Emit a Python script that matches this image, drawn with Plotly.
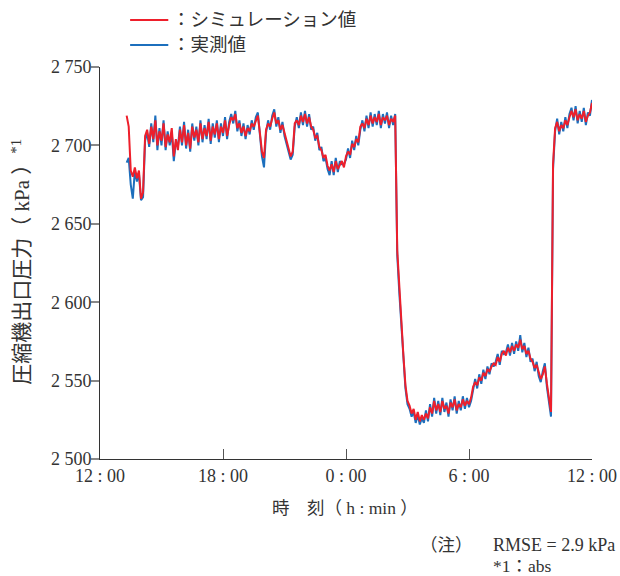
import plotly.graph_objects as go

# time axis: hours after 12:00, samples every 0.1 h starting 13:18
t_start = 1.3
t_step = 0.1

# simulation (red)
simulation = [
    2719, 2712, 2684, 2680, 2686, 2679, 2684, 2666, 2670, 2706,
    2710, 2701, 2712, 2704, 2716, 2700, 2709, 2703, 2714, 2699,
    2707, 2702, 2711, 2693, 2704, 2697, 2710, 2702, 2713, 2700,
    2708, 2698, 2712, 2705, 2710, 2702, 2714, 2704, 2711, 2706,
    2715, 2703, 2712, 2707, 2714, 2704, 2712, 2708, 2716, 2706,
    2713, 2718, 2716, 2720, 2711, 2714, 2708, 2712, 2706, 2711,
    2709, 2714, 2712, 2716, 2719, 2708, 2696, 2692, 2710, 2714,
    2712, 2717, 2721, 2714, 2716, 2710, 2713, 2708, 2703, 2697,
    2693, 2696, 2714, 2716, 2713, 2719, 2715, 2720, 2714, 2718,
    2712, 2710, 2705, 2706, 2699, 2697, 2692, 2694, 2687, 2684,
    2688, 2683, 2690, 2685, 2688, 2690, 2686, 2693, 2696, 2694,
    2701, 2699, 2704, 2702, 2712, 2714, 2711, 2717, 2713, 2719,
    2714, 2718, 2715, 2720, 2713, 2718, 2716, 2719, 2713, 2717,
    2715, 2719, 2633, 2608, 2587, 2566, 2547, 2537, 2534, 2529,
    2532, 2525, 2530, 2524, 2528, 2525, 2529, 2526, 2533, 2529,
    2537, 2531, 2535, 2530, 2537, 2532, 2534, 2529, 2536, 2533,
    2538, 2531, 2535, 2533, 2538, 2534, 2537, 2535, 2539, 2546,
    2549, 2547, 2552, 2550, 2555, 2553, 2557, 2556, 2559, 2561,
    2560, 2565, 2562, 2567, 2569, 2566, 2571, 2568, 2572, 2569,
    2573, 2571, 2576, 2570, 2572, 2567, 2569, 2564, 2562, 2558,
    2560, 2555, 2551, 2554, 2559, 2548, 2537, 2530, 2688, 2711,
    2715, 2709, 2713, 2711, 2716, 2713, 2718, 2722, 2718, 2723,
    2716, 2720, 2717, 2722, 2715, 2719, 2721, 2727,
]

# measured (blue)
measured = [
    2689, 2692, 2675, 2666, 2684, 2677, 2682, 2665, 2667, 2703,
    2708, 2699, 2714, 2702, 2719, 2697, 2711, 2700, 2716, 2697,
    2709, 2700, 2708, 2690, 2702, 2699, 2712, 2700, 2715, 2698,
    2710, 2696, 2714, 2703, 2712, 2700, 2716, 2702, 2713, 2704,
    2717, 2701, 2714, 2705, 2716, 2702, 2714, 2706, 2718, 2704,
    2715, 2720, 2714, 2722, 2709, 2716, 2706, 2714, 2704, 2713,
    2707, 2716, 2710, 2718, 2721, 2706, 2693, 2686, 2708, 2716,
    2710, 2719, 2723, 2712, 2718, 2708, 2715, 2706, 2701, 2695,
    2691, 2694, 2712, 2718, 2711, 2721, 2713, 2722, 2712, 2720,
    2710, 2712, 2703, 2708, 2697, 2699, 2690, 2692, 2685, 2681,
    2690, 2681, 2692, 2683, 2690, 2688, 2688, 2691, 2698, 2692,
    2703, 2697, 2706, 2700, 2710, 2716, 2709, 2719, 2711, 2721,
    2712, 2720, 2713, 2722, 2711, 2720, 2714, 2721, 2711, 2719,
    2713, 2720, 2630, 2606, 2585, 2564, 2545, 2535, 2532, 2527,
    2530, 2523, 2528, 2522, 2526, 2523, 2531, 2524, 2535, 2527,
    2539, 2529, 2537, 2528, 2539, 2530, 2536, 2527, 2538, 2531,
    2540, 2529, 2537, 2531, 2540, 2532, 2539, 2533, 2537, 2544,
    2551, 2545, 2554, 2548, 2557, 2551, 2559, 2554, 2561, 2559,
    2562, 2567, 2560, 2569, 2567, 2568, 2573, 2566, 2574, 2567,
    2575, 2569, 2579, 2568, 2574, 2565, 2571, 2562, 2564, 2556,
    2562, 2553, 2549, 2556, 2561, 2546, 2535, 2527, 2685, 2709,
    2717, 2707, 2715, 2709, 2718, 2711, 2720, 2724, 2716, 2725,
    2714, 2722, 2715, 2724, 2713, 2721, 2719, 2729,
]

x_tickvals = [0, 6, 12, 18, 24]
x_ticktext = ["12 : 00", "18 : 00", "0 : 00", "6 : 00", "12 : 00"]
y_tickvals = [2500, 2550, 2600, 2650, 2700, 2750]
y_ticktext = ["2 500", "2 550", "2 600", "2 650", "2 700", "2 750"]

legend_labels = ["：シミュレーション値", "：実測値"]
y_title = "圧縮機出口圧力（ kPa ）<sup>*1</sup>"
x_title = "時　刻（ h : min ）"
note1 = "（注）"
note2 = "RMSE = 2.9 kPa"
note3 = "*1：abs"

RED = "#ee1f2b"
BLUE = "#1c6fbd"
TXT = "#333333"
FONT = "Liberation Serif, Noto Sans CJK JP, serif"

times_m = [round(t_start + t_step * i, 2) for i in range(len(measured))]
times_s = [round(t_start + t_step * i, 2) for i in range(len(simulation))]

fig = go.Figure()
fig.add_trace(go.Scatter(x=times_m, y=measured, mode="lines",
                         line=dict(color=BLUE, width=2), showlegend=False))
fig.add_trace(go.Scatter(x=times_s, y=simulation, mode="lines",
                         line=dict(color=RED, width=2), showlegend=False))

# horizontal compensation for the capture (observed x ~ 0.9857 * layout x + 1.4)
SX, OX = 0.9857, 1.4

def fx(target):
    return (target - OX) / SX

W, H = 629, 576
PL, PR, PT, PB = 100, 590, 67, 459   # plot area in target pixels
L, T = fx(PL), PT
R, B = W - fx(PR), H - PB

def px(xp):
    return (fx(xp) - fx(PL)) / (fx(PR) - fx(PL))

def py(yp):
    return (PB - yp) / (PB - PT)

# manual legend
for i, (c, lab) in enumerate(zip([RED, BLUE], legend_labels)):
    yy = 20 + 25 * i
    fig.add_shape(type="line", xref="paper", yref="paper",
                  x0=px(130), x1=px(168), y0=py(yy), y1=py(yy),
                  line=dict(color=c, width=2))
    fig.add_annotation(xref="paper", yref="paper", x=px(170), y=py(yy),
                       text=lab, showarrow=False, xanchor="left", yanchor="middle",
                       font=dict(size=18.5, color=TXT, family=FONT))

fig.add_annotation(xref="paper", yref="paper", x=px(21), y=py(262),
                   text=y_title, textangle=-90, showarrow=False,
                   xanchor="center", yanchor="middle",
                   font=dict(size=21, color=TXT, family=FONT))
fig.add_annotation(xref="paper", yref="paper", x=px(344), y=py(508),
                   text=x_title, showarrow=False, xanchor="center", yanchor="middle",
                   font=dict(size=17.5, color=TXT, family=FONT))
fig.add_annotation(xref="paper", yref="paper", x=px(418), y=py(544.5),
                   text=note1, showarrow=False, xanchor="left", yanchor="middle",
                   borderpad=0, font=dict(size=17.5, color=TXT, family=FONT))
fig.add_annotation(xref="paper", yref="paper", x=px(490), y=py(544.5),
                   text=note2, showarrow=False, xanchor="left", yanchor="middle",
                   borderpad=0, font=dict(size=18, color=TXT, family=FONT))
fig.add_annotation(xref="paper", yref="paper", x=px(490), y=py(565.5),
                   text=note3, showarrow=False, xanchor="left", yanchor="middle",
                   borderpad=0, font=dict(size=17.5, color=TXT, family=FONT))

fig.update_layout(
    width=W, height=H,
    margin=dict(l=L, r=R, t=T, b=B),
    paper_bgcolor="white", plot_bgcolor="white",
    font=dict(family=FONT, size=18, color=TXT),
    showlegend=False,
)
fig.update_xaxes(range=[0, 24], tickvals=x_tickvals, ticktext=x_ticktext,
                 showgrid=False, zeroline=False, showline=True,
                 linecolor="#333333", linewidth=1,
                 ticks="inside", ticklen=10, tickcolor="#555555", tickwidth=1,
                 tickfont=dict(size=18, color=TXT, family=FONT))
fig.update_yaxes(range=[2500, 2750], tickvals=y_tickvals, ticktext=y_ticktext,
                 showgrid=False, zeroline=False, showline=True,
                 linecolor="#333333", linewidth=1,
                 ticks="outside", ticklen=8, tickcolor="#888888", tickwidth=2,
                 ticklabelstandoff=-4,
                 tickfont=dict(size=18, color=TXT, family=FONT))

fig.write_html("out.html", config={"displayModeBar": False},
               post_script="document.body.style.margin='0px';"
                           "document.body.style.overflow='hidden';")
